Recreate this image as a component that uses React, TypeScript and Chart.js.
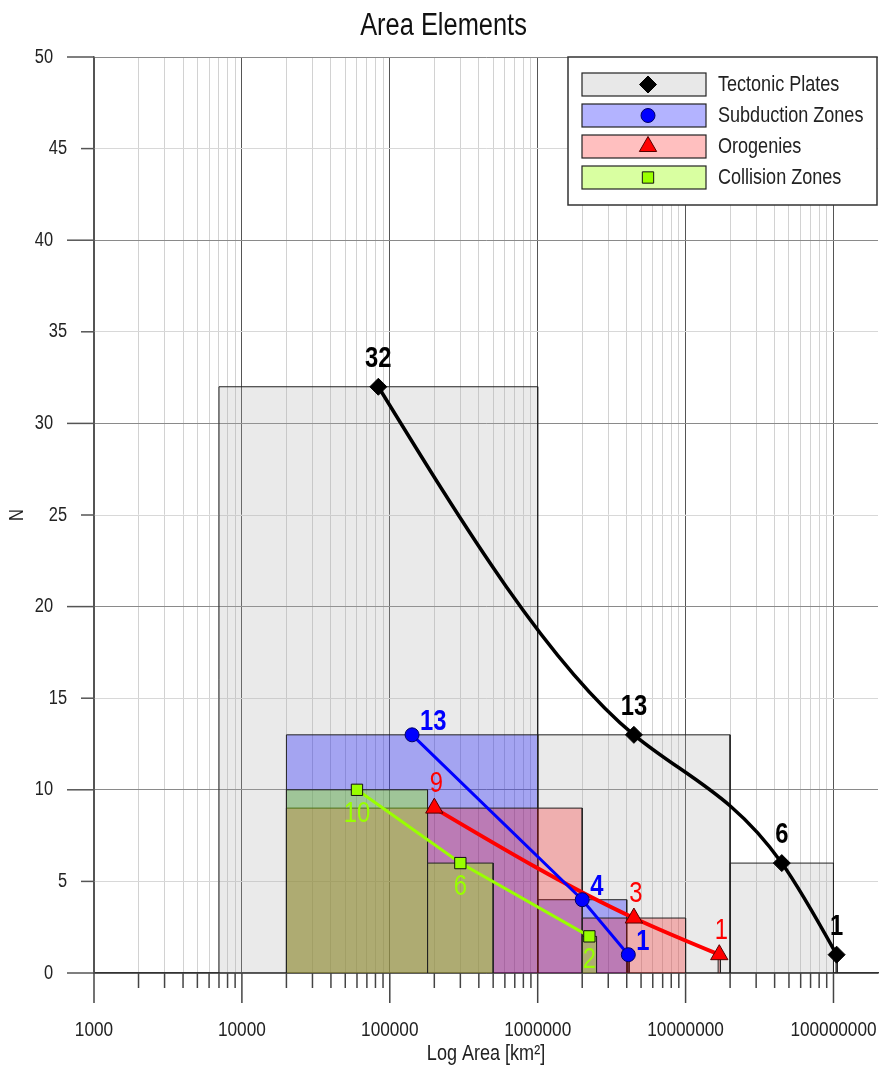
import React, { useEffect, useRef } from 'react';
import { Chart, registerables } from 'chart.js';
Chart.register(...registerables);

// ---------- data ----------
const chartTitle = 'Area Elements';
const xTitle = 'Log Area [km²]';
const yTitle = 'N';
const seriesNames = ['Tectonic Plates', 'Subduction Zones', 'Orogenies', 'Collision Zones'];

// class bounds (km²) and counts N
const tectonicLo = [7000, 1000000, 20000000, 104000000];
const tectonicHi = [1000000, 20000000, 100000000, 106000000];
const tectonicN = [32, 13, 6, 1];

const subductionLo = [20000, 1000000, 4050000];
const subductionHi = [1000000, 4000000, 4150000];
const subductionN = [13, 4, 1];

const orogenyLo = [20000, 2000000, 16600000];
const orogenyHi = [2000000, 10000000, 17200000];
const orogenyN = [9, 3, 1];

const collisionLo = [20000, 180000, 2000000];
const collisionHi = [180000, 500000, 2500000];
const collisionN = [10, 6, 2];

const xDecades = [1000, 10000, 100000, 1000000, 10000000, 100000000];
const xMantissas = [1, 2, 3, 4, 5, 6, 7, 8, 9];
const yTickValues = [0, 5, 10, 15, 20, 25, 30, 35, 40, 45, 50];

// ---------- styles ----------
const FONT = "'Liberation Sans', Arial, sans-serif";
const SX = 0.82; // horizontal condensing of text (narrow face look)
const X_MIN = 1000;
const X_MAX = 200000000;

const fills = ['rgba(170,170,170,0.25)', 'rgba(0,0,255,0.3)', 'rgba(255,0,0,0.25)', 'rgba(153,255,0,0.37)'];
const legendFills = ['#e8e8e8', '#b3b3ff', '#ffbfbf', '#d9ffa1'];
const lineColors = ['#000000', '#0000ff', '#ff0000', '#99ff00'];
const markerFills = ['#000000', '#0000ff', '#ff0000', '#99ff00'];
const markerBorders = ['#000000', '#000066', '#550000', '#111111'];
const markerStyles = ['rectRot', 'circle', 'triangle', 'rect'];
const markerRadius = [8.5, 7, 10, 8];
const labelColors = ['#000000', '#0000ff', '#ff0000', '#99ff00'];
const labelWeights = ['bold', 'bold', 'normal', 'normal'];
const smoothSeries = [true, false, true, false];
const labelPlacement = [
  { dx: 0, dy: -28, align: 'center' },
  { dx: 8, dy: -13, align: 'left' },
  { dx: 2, dy: -24, align: 'center' },
  { dx: 0, dy: 24, align: 'center' },
];

const isDecade = (v: number) => Math.abs(Math.log10(v) - Math.round(Math.log10(v))) < 1e-9;

function rectPoints(lo: number, hi: number, n: number) {
  return [
    { x: lo, y: 0 },
    { x: lo, y: n },
    { x: hi, y: n },
    { x: hi, y: 0 },
  ];
}

const allLo = [tectonicLo, subductionLo, orogenyLo, collisionLo];
const allHi = [tectonicHi, subductionHi, orogenyHi, collisionHi];
const allN = [tectonicN, subductionN, orogenyN, collisionN];

function buildDatasets() {
  const ds: any[] = [];
  allLo.forEach((lo, s) => {
    lo.forEach((l, i) => {
      ds.push({
        type: 'line',
        label: '',
        data: rectPoints(l, allHi[s][i], allN[s][i]),
        fill: 'origin',
        backgroundColor: fills[s],
        borderColor: '#222222',
        borderWidth: 1,
        pointRadius: 0,
        tension: 0,
        order: 40 - s * 10,
        isRect: true,
      });
    });
  });
  const widths = [3.5, 3, 4, 3];
  const lineOrder = [-4, -3, -2, -1];
  allLo.forEach((lo, s) => {
    ds.push({
      type: 'line',
      label: seriesNames[s],
      data: lo.map((l, i) => ({ x: Math.sqrt(l * allHi[s][i]), y: allN[s][i] })),
      fill: false,
      borderColor: lineColors[s],
      borderWidth: widths[s],
      tension: smoothSeries[s] ? 0.4 : 0,
      pointStyle: markerStyles[s],
      pointRadius: markerRadius[s],
      pointBackgroundColor: markerFills[s],
      pointBorderColor: markerBorders[s],
      pointBorderWidth: 1,
      order: lineOrder[s],
      clip: false,
      seriesIndex: s,
      naturalSpline: smoothSeries[s],
    });
  });
  return ds;
}

// natural cubic spline (y as function of x, in pixel space) -> bezier control points
function applyNaturalSpline(pts: any[]) {
  const n = pts.length;
  if (n < 3) return;
  const h: number[] = [];
  const d: number[] = [];
  for (let i = 0; i < n - 1; i++) {
    h.push(pts[i + 1].x - pts[i].x);
    d.push((pts[i + 1].y - pts[i].y) / h[i]);
  }
  const M = new Array(n).fill(0);
  const m = n - 2;
  const a: number[] = [], b: number[] = [], c: number[] = [], r: number[] = [];
  for (let k = 0; k < m; k++) {
    const i = k + 1;
    a.push(h[i - 1]);
    b.push(2 * (h[i - 1] + h[i]));
    c.push(h[i]);
    r.push(6 * (d[i] - d[i - 1]));
  }
  for (let k = 1; k < m; k++) {
    const w = a[k] / b[k - 1];
    b[k] -= w * c[k - 1];
    r[k] -= w * r[k - 1];
  }
  const sol = new Array(m).fill(0);
  for (let k = m - 1; k >= 0; k--) {
    sol[k] = (r[k] - (k < m - 1 ? c[k] * sol[k + 1] : 0)) / b[k];
  }
  for (let k = 0; k < m; k++) M[k + 1] = sol[k];
  const slope: number[] = [];
  for (let i = 0; i < n - 1; i++) slope.push(d[i] - (h[i] * (2 * M[i] + M[i + 1])) / 6);
  slope.push(d[n - 2] + (h[n - 2] * (M[n - 2] + 2 * M[n - 1])) / 6);
  for (let i = 0; i < n; i++) {
    const p = pts[i];
    if (i > 0) {
      const hh = h[i - 1] / 3;
      p.cp1x = p.x - hh;
      p.cp1y = p.y - slope[i] * hh;
    } else {
      p.cp1x = p.x;
      p.cp1y = p.y;
    }
    if (i < n - 1) {
      const hh = h[i] / 3;
      p.cp2x = p.x + hh;
      p.cp2y = p.y + slope[i] * hh;
    } else {
      p.cp2x = p.x;
      p.cp2y = p.y;
    }
  }
}

function drawText(
  ctx: CanvasRenderingContext2D,
  text: string,
  x: number,
  y: number,
  size: number,
  color: string,
  align: CanvasTextAlign = 'center',
  rotate = 0,
  weight = 'normal'
) {
  ctx.save();
  ctx.translate(x, y);
  if (rotate) ctx.rotate(rotate);
  ctx.scale(SX, 1);
  ctx.font = `${weight} ${size}px ${FONT}`;
  ctx.fillStyle = color;
  ctx.textAlign = align;
  ctx.textBaseline = 'middle';
  ctx.fillText(text, 0, 0);
  ctx.restore();
}

function drawMarker(ctx: CanvasRenderingContext2D, style: string, x: number, y: number, r: number, fill: string, stroke: string) {
  ctx.save();
  ctx.beginPath();
  if (style === 'circle') {
    ctx.arc(x, y, r, 0, Math.PI * 2);
  } else if (style === 'rectRot') {
    ctx.moveTo(x - r, y);
    ctx.lineTo(x, y - r);
    ctx.lineTo(x + r, y);
    ctx.lineTo(x, y + r);
    ctx.closePath();
  } else if (style === 'triangle') {
    ctx.moveTo(x, y - r);
    ctx.lineTo(x + 0.866 * r, y + 0.5 * r);
    ctx.lineTo(x - 0.866 * r, y + 0.5 * r);
    ctx.closePath();
  } else {
    const h = r * Math.SQRT1_2;
    ctx.rect(x - h, y - h, 2 * h, 2 * h);
  }
  ctx.fillStyle = fill;
  ctx.fill();
  ctx.strokeStyle = stroke;
  ctx.lineWidth = 1;
  ctx.stroke();
  ctx.restore();
}

const decorPlugin = {
  id: 'decor',
  afterDatasetsUpdate(chart: any) {
    chart.data.datasets.forEach((d: any, i: number) => {
      if (!d.naturalSpline) return;
      const meta = chart.getDatasetMeta(i);
      const line = meta.dataset;
      if (line && line.updateControlPoints) line.updateControlPoints(chart.chartArea, 'x');
      applyNaturalSpline(meta.data);
      if (line) line._path = undefined;
    });
  },
  afterDatasetsDraw(chart: any) {
    const ctx: CanvasRenderingContext2D = chart.ctx;
    chart.data.datasets.forEach((d: any, i: number) => {
      if (d.isRect) return;
      const s = d.seriesIndex;
      const meta = chart.getDatasetMeta(i);
      const pl = labelPlacement[s];
      meta.data.forEach((pt: any, j: number) => {
        drawText(ctx, String(d.data[j].y), pt.x + pl.dx, pt.y + pl.dy, 29, labelColors[s], pl.align as CanvasTextAlign, 0, labelWeights[s]);
      });
    });
  },
  afterDraw(chart: any) {
    const ctx: CanvasRenderingContext2D = chart.ctx;
    const xs = chart.scales.x;
    const ys = chart.scales.y;
    const area = chart.chartArea;
    ctx.save();
    drawText(ctx, chartTitle, chart.width / 2 + 3, 26, 31, '#111111');
    // y ticks and labels
    ctx.strokeStyle = '#555555';
    ctx.lineWidth = 1.5;
    ys.ticks.forEach((t: any) => {
      const py = ys.getPixelForValue(t.value);
      const major = t.value % 10 === 0;
      const len = major ? 27 : 13;
      ctx.beginPath();
      ctx.moveTo(area.left - len, py);
      ctx.lineTo(area.left, py);
      ctx.stroke();
      drawText(ctx, String(t.value), area.left - len - 14, py, 20, '#222222', 'right');
    });
    drawText(ctx, yTitle, 17, (area.top + area.bottom) / 2, 20, '#222222', 'center', -Math.PI / 2);
    // x ticks and labels
    ctx.strokeStyle = '#444444';
    ctx.lineWidth = 1.5;
    xs.ticks.forEach((t: any) => {
      if (t.value >= X_MAX) return;
      const px = xs.getPixelForValue(t.value);
      const major = isDecade(t.value);
      const len = major ? 30 : 15;
      ctx.beginPath();
      ctx.moveTo(px, area.bottom);
      ctx.lineTo(px, area.bottom + len);
      ctx.stroke();
      if (major) drawText(ctx, String(t.value), px, 1030, 21, '#222222');
    });
    drawText(ctx, xTitle, (area.left + area.right) / 2, 1054, 22, '#222222');
    // legend
    const bx = 568, by = 57, bw = 309, bh = 148;
    ctx.fillStyle = '#ffffff';
    ctx.fillRect(bx, by, bw, bh);
    ctx.strokeStyle = '#333333';
    ctx.lineWidth = 1.5;
    ctx.strokeRect(bx, by, bw, bh);
    seriesNames.forEach((name, s) => {
      const ry = 73 + s * 31;
      ctx.fillStyle = legendFills[s];
      ctx.fillRect(582, ry, 124, 23);
      ctx.strokeStyle = '#222222';
      ctx.lineWidth = 1.2;
      ctx.strokeRect(582, ry, 124, 23);
      drawMarker(ctx, markerStyles[s], 648, ry + 11.5, markerRadius[s], markerFills[s], markerBorders[s]);
      drawText(ctx, name, 718, ry + 12, 22, '#222222', 'left');
    });
    ctx.restore();
  },
};

export default function App() {
  const ref = useRef<HTMLCanvasElement>(null);
  useEffect(() => {
    document.body.style.margin = '0';
    const canvas = ref.current!;
    const chart = new Chart(canvas, {
      type: 'line',
      data: { datasets: buildDatasets() },
      options: {
        animation: false,
        responsive: false,
        devicePixelRatio: 1,
        events: [],
        layout: { autoPadding: false, padding: { left: 0, right: 3, top: 57, bottom: 0 } },
        plugins: {
          legend: { display: false },
          tooltip: { enabled: false },
          title: { display: false },
        },
        scales: {
          x: {
            type: 'logarithmic',
            min: X_MIN,
            max: X_MAX,
            afterBuildTicks: (scale: any) => {
              const vals: any[] = [];
              xDecades.forEach((d) => xMantissas.forEach((m) => vals.push({ value: d * m, major: m === 1 })));
              vals.push({ value: X_MAX, major: false });
              scale.ticks = vals;
            },
            afterFit: (scale: any) => {
              scale.height = 95;
              scale.paddingLeft = 0;
              scale.paddingRight = 0;
            },
            ticks: { display: false },
            grid: {
              drawTicks: false,
              lineWidth: 1,
              color: (c: any) => {
                const v = c.tick ? c.tick.value : 0;
                if (v >= X_MAX) return 'rgba(0,0,0,0)';
                return isDecade(v) ? '#555555' : '#d2d2d2';
              },
            },
            border: { display: true, color: '#333333', width: 1.5 },
            title: { display: false },
          },
          y: {
            type: 'linear',
            min: 0,
            max: 50,
            afterBuildTicks: (scale: any) => {
              scale.ticks = yTickValues.map((v) => ({ value: v }));
            },
            afterFit: (scale: any) => {
              scale.width = 94;
              scale.paddingTop = 0;
              scale.paddingBottom = 0;
            },
            ticks: { display: false },
            grid: {
              drawTicks: false,
              lineWidth: 1,
              color: (c: any) => {
                const v = c.tick ? c.tick.value : 0;
                return v % 10 === 0 ? '#8a8a8a' : '#d8d8d8';
              },
            },
            border: { display: true, color: '#555555', width: 1.5 },
            title: { display: false },
          },
        },
      } as any,
      plugins: [decorPlugin],
    });
    return () => chart.destroy();
  }, []);
  return (
    <div style={{ width: 881, height: 1068, position: 'relative' }}>
      <canvas ref={ref} width={881} height={1068} style={{ display: 'block', width: 881, height: 1068 }} />
    </div>
  );
}
